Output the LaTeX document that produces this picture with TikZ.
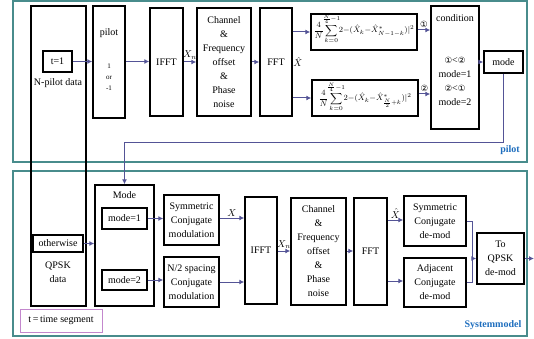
\documentclass[tikz,border=0pt]{standalone}
\usepackage{amsmath}
\usepackage{mathtools}
\usepackage{fontspec}
\setmainfont{Liberation Serif}
\newfontfamily\circfont{DejaVu Sans}
\usetikzlibrary{arrows.meta}
\definecolor{panelteal}{RGB}{72,140,140}
\definecolor{flowblue}{RGB}{84,84,150}
\definecolor{tagblue}{RGB}{30,110,190}
\definecolor{segpink}{RGB}{195,135,205}
\newcommand{\cnum}[1]{{\circfont\fontsize{8.5}{10}\selectfont #1}}

\begin{document}
\begin{tikzpicture}[
  x=1pt, y=-1pt, >={Latex[length=5pt,width=5pt]},
  every node/.style={font=\fontsize{10}{14}\selectfont, align=center, inner sep=1pt},
  blk/.style={draw, line width=1.4pt},
  flow/.style={->, draw=flowblue, line width=1pt},
  wire/.style={draw=flowblue, line width=1pt},
  panel/.style={draw=panelteal, line width=1.2pt},
  tag/.style={text=tagblue, font=\fontsize{10}{12}\selectfont\bfseries},
  sumtxt/.style={font=\fontsize{8.5}{10}\selectfont, inner sep=0pt}
]
  \useasboundingbox (0,0) rectangle (534,339);
  % panels
  \draw[panel] (13,1) rectangle (527,162);
  \draw[panel] (13,171) rectangle (527,336);
  \node[tag] (pilottag) at (510,150) {pilot};
  \node[tag] (systag) at (493,325) {Systemmodel};
  % data source over both panels
  \node[blk, minimum width=55, minimum height=300] (src) at (58.5,156) {};
  \node[blk, minimum width=29, minimum height=21] (t1) at (57.5,61.5) {t=1};
  \node (npd) at (58,83) {N-pilot data};
  \node[blk, minimum width=50, minimum height=17] (other) at (58,243.5) {otherwise};
  \node (qpsk) at (58,272) {QPSK\\data};
  % pilot path
  \node[blk, minimum width=32, minimum height=112] (pil) at (109,62) {};
  \node (piltxt) at (109,33) {pilot};
  \node[font=\fontsize{7}{11}\selectfont] (pm) at (109,77) {1\\or\\-1};
  \node[blk, minimum width=33, minimum height=108] (ifft1) at (166.5,62) {IFFT};
  \node[blk, minimum width=54, minimum height=108] (chan1) at (224,62)
    {Channel\\\&\\Frequency\\offset\\\&\\Phase\\noise};
  \node[blk, minimum width=32, minimum height=108] (fft1) at (276,62) {FFT};
  \node[blk, minimum width=106, minimum height=36] (s1) at (364,32) {};
  \node[sumtxt] (s1f) at (364,29)
    {$\displaystyle\frac{4}{N}\sum_{\mathclap{k=0}}^{\mathclap{\frac{N}{4}-1}}2{-}(\hat{X}_k{-}\hat{X}^*_{N-1-k})|^2$};
  \node[blk, minimum width=106, minimum height=36] (s2) at (365,98) {};
  \node[sumtxt] (s2f) at (365,97)
    {$\displaystyle\frac{4}{N}\sum_{\mathclap{k=0}}^{\mathclap{\frac{N}{4}-1}}2{-}(\hat{X}_k{-}\hat{X}^*_{\frac{N}{2}+k})|^2$};
  \node[blk, minimum width=48, minimum height=123] (cond) at (455,67.5) {};
  \node (condtxt) at (455,18) {condition};
  \node (rule) at (455,81) {\cnum{①}<\cnum{②}\\mode=1\\\cnum{②}<\cnum{①}\\mode=2};
  \node[blk, minimum width=39, minimum height=22] (mode) at (503.5,62) {mode};
  \draw[flow] (t1.east) -- (t1.east -| pil.west);
  \draw[flow] (pil.east |- t1.east) -- (ifft1.west |- t1.east);
  \draw[flow] (ifft1) -- (chan1) node[midway, above=1pt] (xn1) {$X_n$};
  \draw[flow] (chan1) -- (fft1);
  \node (xh1) at (298,62) {$\hat{X}$};
  \draw[flow] (fft1.east |- s1) -- (s1);
  \draw[flow] (fft1.east |- s2) -- (s2);
  \draw[flow] (s1.east |- 0,30) -- (cond.west |- 0,30) node[midway, above=1pt] (c1) {\cnum{①}};
  \draw[flow] (s2.east |- 0,94) -- (cond.west |- 0,94) node[midway, above=1pt] (c2) {\cnum{②}};
  \draw[flow] (cond.east |- mode) -- (mode);
  % mode fed back to system
  \node[blk, minimum width=59, minimum height=121] (mbox) at (124.5,245.5) {};
  \node (mtxt) at (124.5,195) {Mode};
  \coordinate (turn) at (124.5,142);
  \draw[flow] (mode.south) |- (turn) -- (mbox.north);
  % system path
  \node[blk, minimum width=45, minimum height=21] (m1) at (124.5,218.5) {mode=1};
  \node[blk, minimum width=45, minimum height=20] (m2) at (124.5,280) {mode=2};
  \node[blk, minimum width=55, minimum height=50] (sym) at (191.5,220) {Symmetric\\Conjugate\\modulation};
  \node[blk, minimum width=55, minimum height=50] (half) at (191.5,282) {N/2 spacing\\Conjugate\\modulation};
  \node[blk, minimum width=32, minimum height=107] (ifft2) at (261,250.5) {IFFT};
  \node[blk, minimum width=55, minimum height=107] (chan2) at (318.5,251.5)
    {Channel\\\&\\Frequency\\offset\\\&\\Phase\\noise};
  \node[blk, minimum width=33, minimum height=107] (fft2) at (370.5,251.5) {FFT};
  \node[blk, minimum width=62, minimum height=50] (sdm) at (435,221) {Symmetric\\Conjugate\\de-mod};
  \node[blk, minimum width=62, minimum height=49] (adm) at (435,282.5) {Adjacent\\Conjugate\\de-mod};
  \node[blk, minimum width=47, minimum height=51] (toq) at (500.5,258.5) {To\\QPSK\\de-mod};
  \node[draw=segpink, line width=1pt, minimum width=82, minimum height=23] (tseg) at (61,320.5) {t\,=\,time segment};
  \draw[flow] (other) -- (other -| mbox.west);
  \draw[flow] (m1) -- (m1 -| sym.west);
  \draw[flow] (m2) -- (m2 -| half.west);
  \draw[flow] (sym.east |- 0,218) -- (ifft2.west |- 0,218) node[midway, above] (xs) {$X$};
  \draw[flow] (half) -- (half -| ifft2.west);
  \draw[flow] (ifft2.east |- 0,251) -- (chan2.west |- 0,251) node[midway, above=1pt] (xn2) {$X_n$};
  \draw[flow] (chan2.east |- 0,251) -- (fft2.west |- 0,251);
  \draw[flow] (fft2.east |- 0,220) -- (sdm.west |- 0,220) node[midway, above] (xh2) {$\hat{X}$};
  \draw[flow] (fft2.east |- 0,281) -- (adm.west |- 0,281);
  \coordinate (join) at (472,258.5);
  \draw[wire] (sdm.east) -| (join);
  \draw[wire] (adm.east) -| (join);
  \draw[flow] (join) -- (join -| toq.west);
  \coordinate (out) at (534,258.5);
  \draw[flow] (toq.east) -- (out);
\end{tikzpicture}
\end{document}
